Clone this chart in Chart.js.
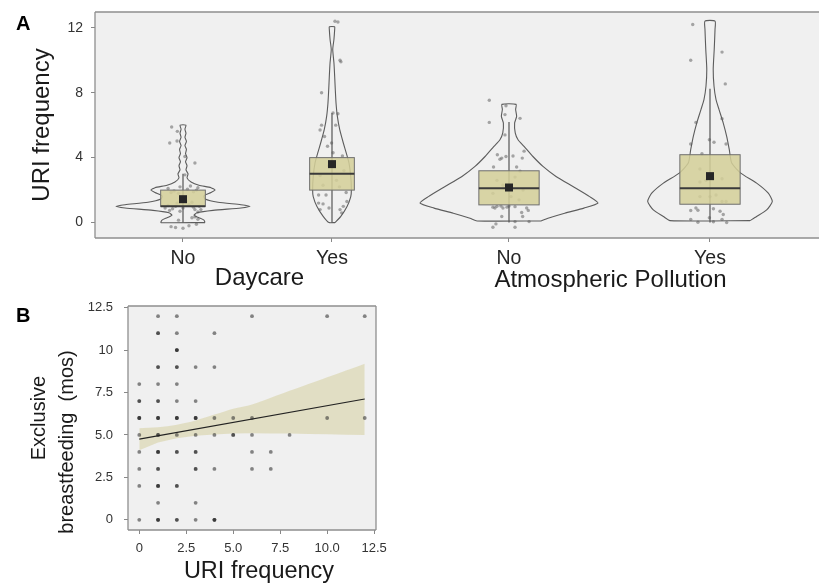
<!DOCTYPE html>
<html><head><meta charset="utf-8">
<script src="https://cdn.jsdelivr.net/npm/chart.js@4"></script>
<style>
html,body{margin:0;padding:0;background:#fff;width:819px;height:585px;overflow:hidden}
.box{position:absolute}
canvas{display:block}
</style></head><body>
<div class="box" style="left:0;top:0;width:417px;height:300px"><canvas id="cA1" width="417" height="300"></canvas></div>
<div class="box" style="left:417px;top:0;width:402px;height:300px"><canvas id="cA2" width="402" height="300"></canvas></div>
<div class="box" style="left:0;top:295px;width:400px;height:290px"><canvas id="cB" width="400" height="290"></canvas></div>
<script>
// ---------------- DATA ----------------
const groupLevels = ['No', 'Yes'];
const daycareTitle = 'Daycare';
const pollutionTitle = 'Atmospheric Pollution';
const uriTitle = 'URI frequency';
const yTicksA = [0, 4, 8, 12];

// box stats: [whiskerLow, q1, median, q3, whiskerHigh, mean]
const daycareStats = [[0, 1, 1, 2, 3, 1.44], [0, 2, 3, 4, 6.75, 3.6]];
const pollutionStats = [[0, 1.09, 2.12, 3.19, 6.2, 2.16], [0, 1.13, 2.12, 4.18, 8.25, 2.86]];

// violin density profiles: y levels and half-widths (x units)
const daycareNoViolinY = [0,0.15,0.3,0.45,0.6,0.75,0.9,1.0,1.1,1.25,1.45,1.65,1.85,2.0,2.15,2.3,2.5,2.75,3.0,3.25,3.5,3.75,4.0,4.25,4.5,4.75,5.0,5.25,5.5,5.75,6.0];
const daycareNoViolinW = [0.148,0.141,0.107,0.074,0.094,0.201,0.389,0.450,0.389,0.235,0.148,0.141,0.188,0.215,0.188,0.107,0.054,0.027,0.034,0.020,0.027,0.017,0.027,0.017,0.023,0.013,0.023,0.013,0.020,0.013,0.020];
const daycareYesViolinY = [0,0.37,0.99,1.6,2.02,2.84,3.67,4.28,4.9,5.72,6.54,7.37,8.2,9.0,9.84,10.66,11.28,11.9,12.06];
const daycareYesViolinW = [0.020,0.058,0.101,0.126,0.130,0.126,0.114,0.096,0.076,0.052,0.036,0.027,0.022,0.018,0.013,0.005,0.013,0.018,0.018];
const pollutionNoViolinY = [0.1,0.27,0.58,0.89,1.2,1.6,2.22,2.84,3.46,4.07,4.69,5.1,5.52,6.13,6.54,6.96,7.28];
const pollutionNoViolinW = [0.159,0.194,0.277,0.373,0.443,0.401,0.318,0.234,0.169,0.119,0.075,0.045,0.031,0.028,0.038,0.033,0.035];
const pollutionYesViolinY = [0.12,0.37,0.78,1.3,1.81,2.43,3.05,3.67,4.49,5.31,6.13,6.96,7.57,8.4,9.43,10.66,11.9,12.41];
const pollutionYesViolinW = [0.199,0.232,0.282,0.310,0.290,0.232,0.153,0.108,0.096,0.083,0.066,0.045,0.030,0.020,0.016,0.021,0.025,0.025];

// jittered observations: [x offset, URI frequency]
const daycareNoPoints = [[-0.076,5.89],[-0.038,5.62],[-0.089,4.9],[-0.04,5.02],[0.08,3.67],[0.013,4.07],[0.013,2.94],
 [-0.1,2.1],[-0.06,1.95],[-0.02,2.2],[0.03,2.05],[0.07,1.9],[0.1,2.15],[-0.08,1.85],[0.05,2.25],[-0.03,1.8],[0.09,2.0],
 [-0.1,1.05],[-0.07,0.85],[-0.04,1.2],[0,0.9],[0.04,1.1],[0.08,0.8],[0.11,1.0],[-0.09,0.75],[0.06,1.25],[-0.02,0.7],[0.1,0.65],[0.02,1.3],[-0.05,1.0],[0.07,0.95],[0.12,0.8],[-0.12,0.9],
 [-0.08,-0.25],[-0.05,-0.3],[0.0,-0.35],[0.04,-0.2],[0.09,-0.1],[0.06,0.3],[0.1,0.2],[-0.03,0.15],[0.08,0.35]];
const daycareYesPoints = [[0.02,12.4],[0.04,12.35],[0.054,10.0],[0.06,9.9],[-0.07,8.0],[0.007,6.75],[0.04,6.7],[0.025,6.0],
 [-0.07,6.0],[-0.08,5.7],[-0.05,5.3],[-0.003,4.9],[-0.03,4.7],[0.007,4.3],[0.07,4.1],
 [-0.06,2.3],[0.03,2.6],[0.08,3.2],[-0.02,3.5],[0.05,2.2],[-0.08,2.9],
 [-0.09,1.7],[-0.04,1.7],[-0.09,1.2],[-0.06,1.15],[-0.08,0.8],[-0.02,0.9],[0.054,0.8],[0.076,1.0],[0.1,1.3],[0.095,1.85],[0.065,0.6]];
const pollutionNoPoints = [[-0.098,7.53],[-0.015,7.2],[-0.02,6.65],[-0.098,6.17],[0.055,6.42],[-0.02,5.4],
 [-0.058,4.18],[-0.036,3.97],[-0.015,4.07],[0.02,4.1],[0.075,4.4],[0.066,3.97],[-0.077,3.42],[0.038,3.42],[0.055,3.17],[-0.045,3.9],
 [-0.06,2.6],[0.03,2.8],[-0.03,2.3],[0.07,2.0],[-0.08,1.8],[0.01,1.6],[0.05,1.4],
 [-0.08,0.95],[-0.06,1.0],[-0.04,1.02],[-0.01,0.95],[0.0,1.02],[0.03,0.98],[-0.07,0.9],[-0.03,0.9],[0.088,0.9],[0.096,0.75],[0.063,0.62],
 [-0.036,0.37],[0.068,0.37],[0.1,0.06],[0.03,0.06],[0.03,-0.29],[-0.065,-0.08],[-0.08,-0.29]];
const pollutionYesPoints = [[-0.086,12.2],[-0.096,10.0],[0.06,10.5],[0.076,8.54],[-0.07,6.17],[0.06,6.4],[-0.096,4.84],[-0.003,5.1],[0.02,4.95],[0.08,4.84],[-0.04,4.24],
 [-0.05,3.3],[-0.02,2.6],[0.015,2.7],[0.06,2.7],[-0.05,2.5],[0,1.6],[0.03,1.7],[-0.05,1.6],[0.06,1.3],[0.08,1.3],
 [-0.096,0.74],[-0.06,0.76],[0.017,0.85],[0.05,0.7],[0.066,0.5],[-0.07,0.9],[-0.096,0.2],[-0.06,0.02],[-0.003,0.3],[0.017,0.05],[0.06,0.2],[0.083,0.0]];

// panel B: URI frequency vs exclusive breastfeeding months (count = overlapping subjects)
const bfUri    = [1,2,6,10,12, 1,2,4, 2, 1,2,3,4, 0,1,2, 0,1,2,3, 0,1,2,3,4,5,6,10,12, 0,1,2,3,4,5,6,8, 0,1,2,3,6,7, 0,1,3,4,6,7, 0,1,2, 1,3, 0,1,2,3,4];
const bfMonths = [12,12,12,12,12, 11,11,11, 10, 9,9,9,9, 8,8,8, 7,7,7,7, 6,6,6,6,6,6,6,6,6, 5,5,5,5,5,5,5,5, 4,4,4,4,4,4, 3,3,3,3,3,3, 2,2,2, 1,1, 0,0,0,0,0];
const bfCount  = [1,1,1,1,1, 2,1,1, 3, 2,2,1,1, 1,1,1, 2,2,1,1, 3,3,3,3,1,1,1,1,1, 1,2,1,1,1,2,1,1, 1,3,2,2,1,1, 1,2,2,1,1,1, 1,3,2, 1,1, 1,3,2,1,3];
const fitX = [0, 12];
const fitY = [4.76, 7.12];
const bandX = [0,1,2,3,4,5,6,7,8,9,10,11,12];
const bandUpper = [5.4,5.45,5.6,5.85,6.2,6.55,6.8,7.2,7.6,8.0,8.4,8.8,9.2];
const bandLower = [4.1,4.55,4.8,4.95,5.03,5.08,5.1,5.09,5.08,5.06,5.04,5.02,5.0];
const xTicksB = [0, 2.5, 5, 7.5, 10, 12.5];
const xTickLabelsB = ['0', '2.5', '5.0', '7.5', '10.0', '12.5'];
const yTicksB = [0, 2.5, 5, 7.5, 10, 12.5];
const yTickLabelsB = ['0', '2.5', '5.0', '7.5', '10', '12.5'];
const bTitleLines = ['Exclusive', 'breastfeeding  (mos)'];

// ---------------- STYLE / HELPERS ----------------
const FONT = '"Liberation Sans", Arial, Helvetica, sans-serif';
const PANEL_BG = '#f0f0f0', FRAME = '#8f8f8f';
const BOX_HALF = 0.15;

function violinPolygon(center, ys, ws) {
  const right = ys.map((v, i) => ({x: center + ws[i], y: v}));
  const left = ys.map((v, i) => ({x: center - ws[i], y: v})).reverse();
  return right.concat(left, [right[0]]);
}
function jitterData(center, pts) { return pts.map(p => ({x: center + p[0], y: p[1]})); }
function noPad(s) { s.paddingTop = 0; s.paddingBottom = 0; s.paddingLeft = 0; s.paddingRight = 0; }

function framePlugin(sides) {
  return {
    id: 'frame',
    beforeDraw(chart) {
      const a = chart.chartArea, c = chart.ctx;
      c.save(); c.fillStyle = PANEL_BG; c.fillRect(a.left, a.top, a.right - a.left, a.bottom - a.top); c.restore();
    },
    afterDraw(chart) {
      const a = chart.chartArea, c = chart.ctx;
      c.save(); c.strokeStyle = FRAME; c.lineWidth = 1.3; c.beginPath();
      if (sides.includes('l')) { c.moveTo(a.left, a.top); c.lineTo(a.left, a.bottom); }
      if (sides.includes('t')) { c.moveTo(a.left, a.top); c.lineTo(a.right, a.top); }
      if (sides.includes('b')) { c.moveTo(a.left, a.bottom); c.lineTo(a.right, a.bottom); }
      if (sides.includes('r')) { c.moveTo(a.right, a.top); c.lineTo(a.right, a.bottom); }
      c.stroke(); c.restore();
    }
  };
}
function boxPlugin(stats) {
  return {
    id: 'boxes',
    afterDatasetsDraw(chart) {
      const xs = chart.scales.x, ys = chart.scales.y, c = chart.ctx;
      c.save();
      stats.forEach((s, i) => {
        const [lo, q1, med, q3, hi, mean] = s;
        const cx = xs.getPixelForValue(i), l = xs.getPixelForValue(i - BOX_HALF), r = xs.getPixelForValue(i + BOX_HALF);
        c.strokeStyle = '#555'; c.lineWidth = 1.2;
        c.beginPath(); c.moveTo(cx, ys.getPixelForValue(lo)); c.lineTo(cx, ys.getPixelForValue(hi)); c.stroke();
        const t = ys.getPixelForValue(q3), b = ys.getPixelForValue(q1);
        c.fillStyle = 'rgba(212,207,152,0.86)'; c.fillRect(l, t, r - l, b - t);
        c.strokeStyle = '#6e6e6e'; c.lineWidth = 1; c.strokeRect(l, t, r - l, b - t);
        const m = ys.getPixelForValue(med);
        c.strokeStyle = '#3a3a3a'; c.lineWidth = 2; c.beginPath(); c.moveTo(l, m); c.lineTo(r, m); c.stroke();
        const my = ys.getPixelForValue(mean);
        c.fillStyle = '#262626'; c.fillRect(cx - 4, my - 4, 8, 8);
      });
      c.restore();
    }
  };
}
function textPlugin(items) {
  return {
    id: 'texts',
    afterDraw(chart) {
      const c = chart.ctx;
      items.forEach(it => {
        const p = it.pos(chart);
        c.save();
        c.font = it.font; c.fillStyle = it.color || '#1a1a1a';
        c.textAlign = it.align || 'center'; c.textBaseline = it.baseline || 'alphabetic';
        c.translate(p[0], p[1]);
        if (it.rotate) c.rotate(it.rotate);
        c.fillText(it.text, 0, 0);
        c.restore();
      });
    }
  };
}

function violinDatasets(profiles) {
  return profiles.map((p, i) => ({
    data: violinPolygon(i, p[0], p[1]), showLine: true, fill: false,
    borderColor: '#5c5c5c', borderWidth: 1.1, pointRadius: 0, tension: 0.2, order: 2
  }));
}
function pointDataset(groups) {
  let d = [];
  groups.forEach((g, i) => { d = d.concat(jitterData(i, g)); });
  return {data: d, showLine: false, pointRadius: 1.7, pointBackgroundColor: 'rgba(85,85,85,0.5)', pointBorderWidth: 0, order: 1};
}

function topXAxis(min, max) {
  return {
    type: 'linear', min: min, max: max,
    afterBuildTicks: s => { s.ticks = groupLevels.map((_, i) => ({value: i})); },
    afterFit: s => { s.height = 62; noPad(s); },
    ticks: {callback: v => groupLevels[v], font: {family: FONT, size: 19.5}, color: '#262626', padding: 5, maxRotation: 0, autoSkip: false},
    grid: {display: true, drawOnChartArea: false, drawTicks: true, tickLength: 4, color: '#888'},
    border: {display: false}
  };
}
const yMinA = -0.95, yMaxA = 12.97;
const common = {responsive: false, animation: false, events: [], plugins: {legend: {display: false}, tooltip: {enabled: false}}};

// ---------------- CHART A (Daycare) ----------------
new Chart(document.getElementById('cA1'), {
  type: 'line',
  data: {datasets: violinDatasets([[daycareNoViolinY, daycareNoViolinW], [daycareYesViolinY, daycareYesViolinW]]).concat([pointDataset([daycareNoPoints, daycareYesPoints])])},
  options: Object.assign({}, common, {
    layout: {autoPadding: false, padding: {top: 12, left: 0, right: 0, bottom: 0}},
    scales: {
      x: topXAxis(-0.5906, 1.5705),
      y: {
        type: 'linear', min: yMinA, max: yMaxA,
        afterBuildTicks: s => { s.ticks = yTicksA.map(v => ({value: v})); },
        afterFit: s => { s.width = 95; noPad(s); },
        ticks: {font: {family: FONT, size: 14}, color: '#333', padding: 8},
        grid: {display: true, drawOnChartArea: false, drawTicks: true, tickLength: 4, color: '#888'},
        border: {display: false}
      }
    }
  }),
  plugins: [framePlugin('ltb'), boxPlugin(daycareStats), textPlugin([
    {text: 'A', font: 'bold 20px ' + FONT, color: '#000', align: 'left', pos: ch => [16, 30]},
    {text: uriTitle, font: '24px ' + FONT, rotate: -Math.PI / 2, baseline: 'middle', pos: ch => [42, (ch.chartArea.top + ch.chartArea.bottom) / 2]},
    {text: daycareTitle, font: '24px ' + FONT, baseline: 'middle', pos: ch => [(ch.scales.x.getPixelForValue(0) + ch.scales.x.getPixelForValue(1)) / 2 + 2, ch.chartArea.bottom + 40]}
  ])]
});

// ---------------- CHART A (Atmospheric Pollution) ----------------
new Chart(document.getElementById('cA2'), {
  type: 'line',
  data: {datasets: violinDatasets([[pollutionNoViolinY, pollutionNoViolinW], [pollutionYesViolinY, pollutionYesViolinW]]).concat([pointDataset([pollutionNoPoints, pollutionYesPoints])])},
  options: Object.assign({}, common, {
    layout: {autoPadding: false, padding: {top: 12, left: 0, right: 0, bottom: 0}},
    scales: {
      x: topXAxis(-0.4577, 1.5423),
      y: {type: 'linear', min: yMinA, max: yMaxA, display: false}
    }
  }),
  plugins: [framePlugin('tb'), boxPlugin(pollutionStats), textPlugin([
    {text: pollutionTitle, font: '24px ' + FONT, baseline: 'middle', pos: ch => [(ch.scales.x.getPixelForValue(0) + ch.scales.x.getPixelForValue(1)) / 2 + 1, ch.chartArea.bottom + 42]}
  ])]
});

// ---------------- CHART B ----------------
const bPoints = [];
bfUri.forEach((u, i) => { for (let k = 0; k < bfCount[i]; k++) bPoints.push({x: u, y: bfMonths[i]}); });
new Chart(document.getElementById('cB'), {
  type: 'line',
  data: {datasets: [
    {data: bandX.map((x, i) => ({x: x, y: bandLower[i]})), showLine: true, borderWidth: 0, borderColor: 'rgba(0,0,0,0)', pointRadius: 0, fill: false, order: 3},
    {data: bandX.map((x, i) => ({x: x, y: bandUpper[i]})), showLine: true, borderWidth: 0, borderColor: 'rgba(0,0,0,0)', pointRadius: 0, fill: '-1', backgroundColor: 'rgba(214,207,160,0.55)', tension: 0.3, order: 3},
    {data: bPoints, showLine: false, pointRadius: 1.9, pointBackgroundColor: 'rgba(40,40,40,0.55)', pointBorderWidth: 0, order: 2},
    {data: fitX.map((x, i) => ({x: x, y: fitY[i]})), showLine: true, borderColor: '#222', borderWidth: 1.2, pointRadius: 0, fill: false, order: 1}
  ]},
  options: Object.assign({}, common, {
    layout: {autoPadding: false, padding: {top: 11, left: 0, right: 24, bottom: 0}},
    scales: {
      x: {
        type: 'linear', min: -0.6, max: 12.6,
        afterBuildTicks: s => { s.ticks = xTicksB.map(v => ({value: v})); },
        afterFit: s => { s.height = 55; noPad(s); },
        ticks: {callback: (v, i) => xTickLabelsB[i], font: {family: FONT, size: 13}, color: '#333', padding: 7, maxRotation: 0, autoSkip: false},
        grid: {display: true, drawOnChartArea: false, drawTicks: true, tickLength: 4, color: '#888'},
        border: {display: false}
      },
      y: {
        type: 'linear', min: -0.6, max: 12.6,
        afterBuildTicks: s => { s.ticks = yTicksB.map(v => ({value: v})); },
        afterFit: s => { s.width = 128; noPad(s); },
        ticks: {callback: (v, i) => yTickLabelsB[i], font: {family: FONT, size: 13}, color: '#333', padding: 11},
        grid: {display: true, drawOnChartArea: false, drawTicks: true, tickLength: 4, color: '#888'},
        border: {display: false}
      }
    }
  }),
  plugins: [framePlugin('ltbr'), textPlugin([
    {text: 'B', font: 'bold 20px ' + FONT, color: '#000', align: 'left', pos: ch => [16, 27]},
    {text: uriTitle, font: '23.5px ' + FONT, pos: ch => [(ch.chartArea.left + ch.chartArea.right) / 2 + 7, ch.chartArea.bottom + 48]},
    {text: bTitleLines[0], font: '20px ' + FONT, rotate: -Math.PI / 2, pos: ch => [45, (ch.chartArea.top + ch.chartArea.bottom) / 2 - 0]},
    {text: bTitleLines[1], font: '20px ' + FONT, rotate: -Math.PI / 2, pos: ch => [73, (ch.chartArea.top + ch.chartArea.bottom) / 2 + 24]}
  ])]
});
</script>
</body></html>
